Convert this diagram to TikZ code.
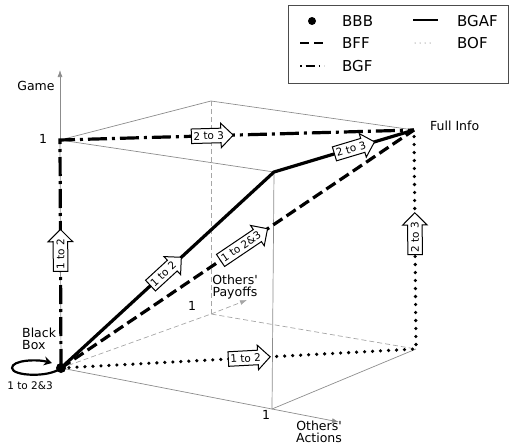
\documentclass[tikz,border=0pt]{standalone}
\usepackage{fontspec}
\setmainfont{DejaVu Sans}
\usetikzlibrary{shapes.arrows, arrows.meta}
\begin{document}
\begin{tikzpicture}[x=1pt,y=-1pt,
  ax/.style={draw=black!45, line width=0.7pt},
  axd/.style={draw=black!35, line width=0.7pt, dash pattern=on 5pt off 3pt},
  lab/.style={font=\fontsize{12.5}{12}\selectfont, inner sep=0pt},
  leglab/.style={font=\fontsize{15}{16}\selectfont, inner sep=0pt, anchor=west},
  tag/.style={single arrow, draw=black, fill=white, solid, line cap=butt, line width=1pt,
    single arrow head extend=5pt, inner xsep=1.5pt, inner ysep=2.8pt,
    font=\fontsize{10.5}{12}\selectfont, sloped, allow upside down},
  bgf/.style={line width=3.2pt, dash pattern=on 19pt off 5pt on 3pt off 5pt},
  bgaf/.style={line width=3.2pt},
  bff/.style={line width=3.2pt, dash pattern=on 11pt off 5pt},
  bof/.style={line width=3.6pt, line cap=round, dash pattern=on 0pt off 8pt},
]
\useasboundingbox (0,0) rectangle (509,447);
% cube vertices
\coordinate (O) at (61,368);
\coordinate (A) at (272,409);
\coordinate (P) at (211,314);
\coordinate (G) at (60,140);
\coordinate (AP) at (416,349);
\coordinate (AG) at (274,172);
\coordinate (PG) at (211,101);
\coordinate (F) at (414,130);
\coordinate (Gt) at (60,70);
\coordinate (At) at (339,422);
\coordinate (Pt) at (247,300);
% cube edges
\draw[ax] (O) -- (A) -- (AP);
\draw[ax] (A) -- (AG);
\draw[ax] (O) -- (G);
\draw[ax] (AG) -- (G) -- (PG) -- (F);
\draw[axd] (O) -- (P) -- (AP);
\draw[axd] (P) -- (PG);
% axes
\draw[ax, -{Latex[length=7pt,width=5pt]}] (G) -- (Gt);
\draw[ax, -{Latex[length=7pt,width=5pt]}] (A) -- (At);
\draw[axd, -{Latex[length=7pt,width=5pt]}] (P) -- (Pt);
% axis labels
\node[lab] (game) at (36,86) {Game};
\node[lab] (g1) at (43,139) {1};
\node[lab] (p1) at (192,306) {1};
\node[lab] (a1) at (266,415) {1};
\node[lab, align=center] (pl) at (235,287) {Others\textquotesingle\\Payoffs};
\node[lab, align=center] (al) at (319,432) {Others\textquotesingle\\Actions};
\node[lab, anchor=west] (fi) at (430,126) {Full Info};
\node[lab, align=left, anchor=west] (bb) at (22,339) {Black\\Box};
\node[font=\fontsize{10.5}{12}\selectfont, inner sep=0pt] (l23) at (30,386) {1 to 2\&3};
% paths
\draw[bgf] (O) -- node[tag, pos=0.5] (t1) {1 to 2} (G) -- node[tag, pos=0.42] (t2) {2 to 3} (F);
\draw[bof] (O) -- node[tag, pos=0.52] (t6) {1 to 2} (AP) -- node[tag, pos=0.51] (t7) {2 to 3} (F);
\draw[bff] (O) -- node[tag, pos=0.51] (t5) {1 to 2\&3} (F);
\draw[bgaf] (O) -- node[tag, pos=0.48] (t3) {1 to 2} (AG) -- node[tag, pos=0.55] (t4) {2 to 3} (F);
% black box loop
\draw[line width=2.2pt, -{Stealth[length=8pt,width=9pt]}] (O) .. controls +(-12,10) and +(0,8) .. (12,368) .. controls +(0,-8) and +(-15,-4) .. (52,363);
\fill (O) circle (5pt);
% legend
\node[draw=black!70, line width=0.8pt, minimum width=220pt, minimum height=78pt, anchor=north west, inner sep=0pt] (leg) at (288,5) {};
\fill (312,21) circle (4pt);
\node[leglab] (lbbb) at (342,21) {BBB};
\draw[line width=2pt] (413,20) -- (438,20);
\node[leglab] (lbgaf) at (457,21) {BGAF};
\draw[line width=2.4pt, dash pattern=on 9pt off 5pt] (300,43) -- (323,43);
\node[leglab] (lbff) at (342,43) {BFF};
\draw[line width=1pt, black!70, line cap=round, dash pattern=on 0pt off 5pt] (415,43) -- (431,43);
\node[leglab] (lbof) at (457,43) {BOF};
\draw[line width=2pt, dash pattern=on 1.5pt off 4pt on 9pt off 4pt] (300,66) -- (324,66);
\node[leglab] (lbgf) at (342,66) {BGF};
\end{tikzpicture}
\end{document}
